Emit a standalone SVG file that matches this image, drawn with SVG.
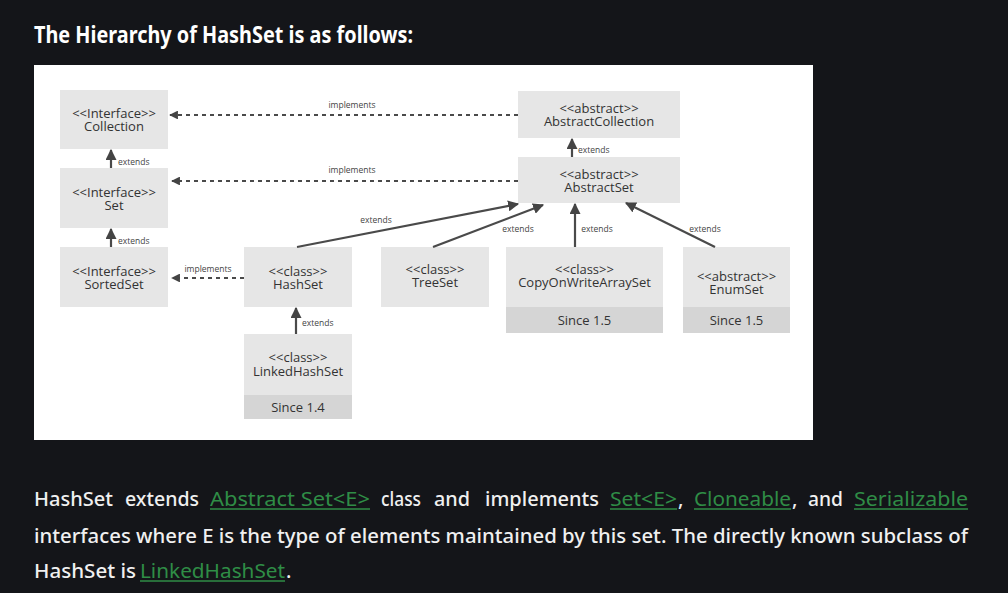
<svg xmlns="http://www.w3.org/2000/svg" width="1008" height="593" viewBox="0 0 1008 593">
<defs>
<marker id="ah" viewBox="0 0 10 10" refX="9" refY="5" markerWidth="5" markerHeight="5" orient="auto" markerUnits="strokeWidth">
<path d="M0,0 L10,5 L0,10 z" fill="#444"/>
</marker>
<marker id="ahd" viewBox="0 0 10 10" refX="9" refY="5" markerWidth="4" markerHeight="4" orient="auto" markerUnits="strokeWidth">
<path d="M0,0 L10,5 L0,10 z" fill="#444"/>
</marker>
</defs>
<style>
.bx{fill:#e6e6e6}
.band{fill:#d5d5d5}
.t{font-family:"Open Sans","DejaVu Sans",sans-serif;font-size:13px;fill:#333;text-anchor:middle}
.lb{font-family:"Open Sans","DejaVu Sans",sans-serif;font-size:8.5px;fill:#444}
.ln{stroke:#4a4a4a;stroke-width:2.2;fill:none}
.dl{stroke:#4a4a4a;stroke-width:2.2;fill:none;stroke-dasharray:4 4}
.body{font-family:"Noto Sans","DejaVu Sans",sans-serif;font-size:20px;font-weight:500;fill:#f0f0f0}
.lnk{fill:#2f8d46;font-weight:400}
.ul{stroke:#2f8d46;stroke-width:1.5}
</style>
<rect width="1008" height="593" fill="#141519"/>
<text x="34" y="43" font-family="Noto Sans, DejaVu Sans, sans-serif" font-weight="bold" font-size="23" fill="#fff" textLength="379" lengthAdjust="spacingAndGlyphs">The Hierarchy of HashSet is as follows:</text>
<rect x="34" y="65" width="779" height="375" fill="#fff"/>

<g id="collection"><rect class="bx" x="60" y="90" width="108" height="59"/><text class="t" x="114" y="118">&lt;&lt;Interface&gt;&gt;<tspan x="114" dy="13">Collection</tspan></text></g>
<g id="set"><rect class="bx" x="60" y="168" width="108" height="60"/><text class="t" x="114" y="197">&lt;&lt;Interface&gt;&gt;<tspan x="114" dy="13">Set</tspan></text></g>
<g id="sortedset"><rect class="bx" x="60" y="247" width="108" height="60"/><text class="t" x="114" y="276">&lt;&lt;Interface&gt;&gt;<tspan x="114" dy="13">SortedSet</tspan></text></g>
<g id="hashset"><rect class="bx" x="244" y="247" width="108" height="60"/><text class="t" x="298" y="276">&lt;&lt;class&gt;&gt;<tspan x="298" dy="13">HashSet</tspan></text></g>
<g id="treeset"><rect class="bx" x="381" y="247" width="108" height="60"/><text class="t" x="435" y="274">&lt;&lt;class&gt;&gt;<tspan x="435" dy="13">TreeSet</tspan></text></g>
<g id="cowas"><rect class="bx" x="506" y="247" width="157" height="60"/><rect class="band" x="506" y="307" width="157" height="26"/><text class="t" x="584.5" y="274">&lt;&lt;class&gt;&gt;<tspan x="584.5" dy="13">CopyOnWriteArraySet</tspan></text><text class="t" x="584.5" y="325">Since 1.5</text></g>
<g id="enumset"><rect class="bx" x="683" y="247" width="107" height="60"/><rect class="band" x="683" y="307" width="107" height="26"/><text class="t" x="736.5" y="281">&lt;&lt;abstract&gt;&gt;<tspan x="736.5" dy="13">EnumSet</tspan></text><text class="t" x="736.5" y="325">Since 1.5</text></g>
<g id="abstractcollection"><rect class="bx" x="518" y="91" width="162" height="47"/><text class="t" x="599" y="113">&lt;&lt;abstract&gt;&gt;<tspan x="599" dy="13">AbstractCollection</tspan></text></g>
<g id="abstractset"><rect class="bx" x="518" y="157" width="162" height="46"/><text class="t" x="599" y="179">&lt;&lt;abstract&gt;&gt;<tspan x="599" dy="12.5">AbstractSet</tspan></text></g>
<g id="linkedhashset"><rect class="bx" x="244" y="334" width="108" height="61"/><rect class="band" x="244" y="395" width="108" height="24"/><text class="t" x="298" y="362">&lt;&lt;class&gt;&gt;<tspan x="298" dy="14">LinkedHashSet</tspan></text><text class="t" x="298" y="412">Since 1.4</text></g>

<g id="connectors">
<line class="dl" x1="518" y1="115" x2="170" y2="115" marker-end="url(#ahd)"/>
<text class="lb" x="352" y="108" text-anchor="middle">implements</text>
<line class="dl" x1="518" y1="181" x2="172" y2="181" marker-end="url(#ahd)"/>
<text class="lb" x="352" y="173" text-anchor="middle">implements</text>
<line class="dl" x1="244" y1="278" x2="172" y2="278" marker-end="url(#ahd)"/>
<text class="lb" x="208" y="272" text-anchor="middle">implements</text>
<line class="ln" x1="111" y1="168" x2="111" y2="150" marker-end="url(#ah)"/>
<text class="lb" x="118" y="165">extends</text>
<line class="ln" x1="111" y1="247" x2="111" y2="229" marker-end="url(#ah)"/>
<text class="lb" x="118" y="244">extends</text>
<line class="ln" x1="572" y1="157" x2="572" y2="139" marker-end="url(#ah)"/>
<text class="lb" x="578" y="153">extends</text>
<line class="ln" x1="297" y1="247" x2="518" y2="204" marker-end="url(#ah)"/>
<text class="lb" x="376" y="223" text-anchor="middle">extends</text>
<line class="ln" x1="433" y1="247" x2="543" y2="205" marker-end="url(#ah)"/>
<text class="lb" x="518" y="232" text-anchor="middle">extends</text>
<line class="ln" x1="575" y1="247" x2="575" y2="204" marker-end="url(#ah)"/>
<text class="lb" x="597" y="232" text-anchor="middle">extends</text>
<line class="ln" x1="715" y1="247" x2="626" y2="203" marker-end="url(#ah)"/>
<text class="lb" x="705" y="232" text-anchor="middle">extends</text>
<line class="ln" x1="296" y1="334" x2="296" y2="308" marker-end="url(#ah)"/>
<text class="lb" x="302" y="326">extends</text>
</g>

<g id="paragraph">
<text class="body" x="34" y="506" textLength="79" lengthAdjust="spacingAndGlyphs">HashSet</text>
<text class="body" x="125" y="506" textLength="74" lengthAdjust="spacingAndGlyphs">extends</text>
<text class="body lnk" x="210" y="506" textLength="160" lengthAdjust="spacingAndGlyphs">Abstract Set&lt;E&gt;</text>
<line class="ul" x1="210" y1="509" x2="370" y2="509"/>
<text class="body" x="381" y="506" textLength="40" lengthAdjust="spacingAndGlyphs">class</text>
<text class="body" x="434" y="506" textLength="36" lengthAdjust="spacingAndGlyphs">and</text>
<text class="body" x="485" y="506" textLength="114" lengthAdjust="spacingAndGlyphs">implements</text>
<text class="body lnk" x="610" y="506" textLength="67" lengthAdjust="spacingAndGlyphs">Set&lt;E&gt;</text>
<line class="ul" x1="610" y1="509" x2="677" y2="509"/>
<text class="body" x="678" y="506">,</text>
<text class="body lnk" x="694" y="506" textLength="97" lengthAdjust="spacingAndGlyphs">Cloneable</text>
<line class="ul" x1="694" y1="509" x2="791" y2="509"/>
<text class="body" x="792" y="506">,</text>
<text class="body" x="808" y="506" textLength="35" lengthAdjust="spacingAndGlyphs">and</text>
<text class="body lnk" x="854" y="506" textLength="114" lengthAdjust="spacingAndGlyphs">Serializable</text>
<line class="ul" x1="854" y1="509" x2="968" y2="509"/>
<text class="body" x="34" y="543" textLength="934" lengthAdjust="spacingAndGlyphs">interfaces where E is the type of elements maintained by this set. The directly known subclass of</text>
<text class="body" x="34" y="578" textLength="102" lengthAdjust="spacingAndGlyphs">HashSet is</text>
<text class="body lnk" x="140" y="578" textLength="145" lengthAdjust="spacingAndGlyphs">LinkedHashSet</text>
<line class="ul" x1="140" y1="581" x2="285" y2="581"/>
<text class="body" x="286" y="578">.</text>
</g>
</svg>
